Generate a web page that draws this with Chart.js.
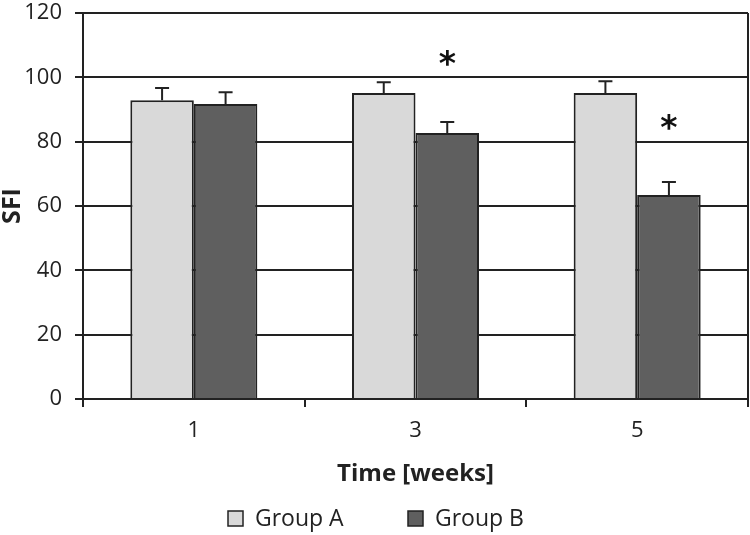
<!DOCTYPE html>
<html>
<head>
  <title>SFI over time</title>
  <script src="https://cdn.jsdelivr.net/npm/chart.js"></script>
  <style>
    body { margin: 0; background: #fff; }
    #wrap { width: 750px; height: 535px; }
  </style>
</head>
<body>
  <div id="wrap"><canvas id="barChart" width="750" height="535"></canvas></div>

  <script>
    const weeks = ['1', '3', '5'];
    const groupA = [92.9, 95.1, 95.1];
    const groupAErr = [3.8, 3.4, 3.7];
    const groupB = [91.7, 82.7, 63.4];
    const groupBErr = [3.7, 3.4, 4.1];
    // where the significance stars sit (over Group B), null = none
    const starsB = [null, 105.4, 85.5];
    const yTicks = [0, 20, 40, 60, 80, 100, 120];

    const ink = '#222';
    const fam = '"Open Sans", "DejaVu Sans", sans-serif';
    Chart.defaults.font.family = fam;
    Chart.defaults.color = ink;

    const extras = {
      id: 'extras',
      afterDatasetsDraw(chart) {
        const ctx = chart.ctx;
        const y = chart.scales.y;
        ctx.save();
        ctx.strokeStyle = ink;
        ctx.lineWidth = 2;
        // error bars
        chart.data.datasets.forEach((ds, i) => {
          const meta = chart.getDatasetMeta(i);
          meta.data.forEach((bar, j) => {
            const top = y.getPixelForValue(ds.data[j] + ds.errors[j]);
            ctx.beginPath();
            ctx.moveTo(bar.x, bar.y);
            ctx.lineTo(bar.x, top);
            ctx.moveTo(bar.x - 7, top);
            ctx.lineTo(bar.x + 7, top);
            ctx.stroke();
          });
        });
        // stars
        const metaB = chart.getDatasetMeta(1);
        ctx.fillStyle = '#111';
        ctx.font = 'bold 33px "DejaVu Sans", sans-serif';
        ctx.textAlign = 'center';
        ctx.textBaseline = 'middle';
        starsB.forEach((v, j) => {
          if (v === null) return;
          ctx.fillText('*', metaB.data[j].x, y.getPixelForValue(v) + 6);
        });
        // right frame line
        const a = chart.chartArea;
        ctx.beginPath();
        ctx.moveTo(a.right, a.top);
        ctx.lineTo(a.right, a.bottom + 8);
        ctx.stroke();

        // legend
        const items = [{ x: 228 }, { x: 408 }];
        ctx.font = '23px ' + fam;
        ctx.textAlign = 'left';
        ctx.textBaseline = 'middle';
        chart.data.datasets.forEach((ds, i) => {
          const lx = items[i].x;
          ctx.fillStyle = ds.backgroundColor;
          ctx.fillRect(lx, 511, 15, 15);
          ctx.lineWidth = 1.5;
          ctx.strokeRect(lx, 511, 15, 15);
          ctx.fillStyle = ink;
          ctx.fillText(ds.label, lx + 27, 519);
        });
        ctx.restore();
      }
    };

    new Chart(document.getElementById('barChart').getContext('2d'), {
      type: 'bar',
      data: {
        labels: weeks,
        datasets: [
          {
            label: 'Group A',
            data: groupA,
            errors: groupAErr,
            backgroundColor: '#d9d9d9',
            borderColor: ink,
            borderWidth: 2
          },
          {
            label: 'Group B',
            data: groupB,
            errors: groupBErr,
            backgroundColor: '#5f5f5f',
            borderColor: ink,
            borderWidth: 2
          }
        ]
      },
      options: {
        responsive: false,
        animation: false,
        layout: { padding: { top: 13, right: 2, left: 0, bottom: 46 } },
        datasets: { bar: { categoryPercentage: 0.573, barPercentage: 1.0 } },
        plugins: {
          tooltip: { enabled: false },
          legend: { display: false }
        },
        scales: {
          x: {
            afterFit: s => { s.height = 90; },
            grid: { drawOnChartArea: false, drawTicks: true, tickLength: 8, color: ink, lineWidth: 2 },
            border: { color: ink, width: 2 },
            ticks: { font: { size: 22 }, padding: 11, color: ink },
            title: { display: true, text: 'Time [weeks]', font: { size: 24, weight: 'bold' }, color: ink, padding: { top: 0, bottom: 0 } }
          },
          y: {
            min: 0,
            max: 120,
            afterFit: s => { s.width = 83; s.paddingTop = 0; s.paddingBottom = 0; },
            afterBuildTicks: s => { s.ticks = yTicks.map(v => ({ value: v })); },
            grid: { color: ink, lineWidth: 2, tickLength: 8 },
            border: { color: ink, width: 2 },
            ticks: { font: { size: 22 }, padding: 13, color: ink },
            title: { display: true, text: 'SFI', font: { size: 25, weight: 'bold', lineHeight: 1 }, color: ink, padding: { top: 0, bottom: 0 } }
          }
        }
      },
      plugins: [extras]
    });
  </script>
</body>
</html>
